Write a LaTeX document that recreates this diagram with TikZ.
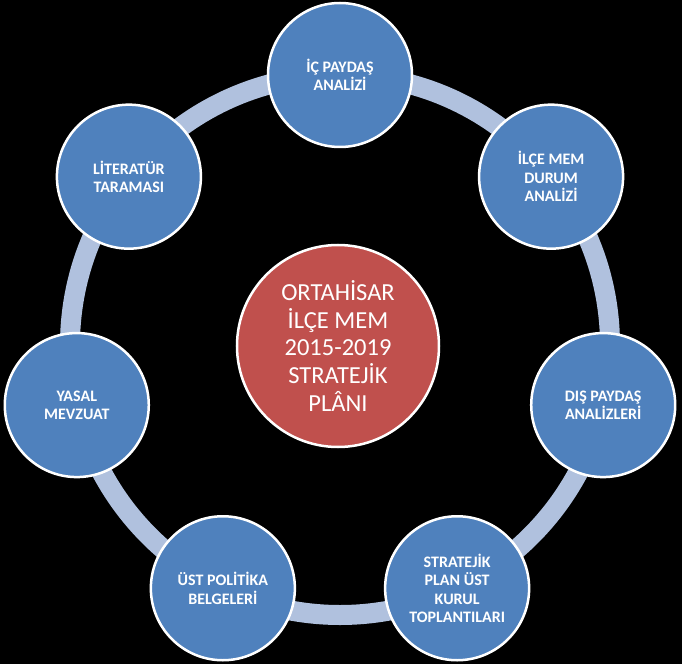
\documentclass[tikz,border=0pt]{standalone}
\usepackage{fontspec}
\setmainfont{Carlito}
\definecolor{satblue}{HTML}{4F81BD}
\definecolor{hubred}{HTML}{C0504D}
\definecolor{ringcol}{HTML}{B0C1DE}
\begin{document}
\begin{tikzpicture}[x=1pt,y=1pt,
  sat/.style={circle, fill=satblue, draw=white, line width=2.5pt, minimum size=144pt,
    inner sep=0pt, align=center, text=white,
    font=\fontsize{16}{18.5}\selectfont\bfseries},
  hub/.style={circle, fill=hubred, draw=white, line width=2.5pt, minimum size=202pt,
    inner sep=0pt, align=center, text=white,
    font=\fontsize{24.5}{27.8}\selectfont},
  ring/.style={draw=ringcol, line width=20pt}]
\fill[black] (-340,-319) rectangle (342,345);
\useasboundingbox (-340,-319) rectangle (342,345);
\draw[ring] (0,0) circle (270);
\node[sat] (s1) at (90:270) {İÇ PAYDAŞ\\ANALİZİ};
\node[sat] (s2) at (38.571:270) {İLÇE MEM\\DURUM\\ANALİZİ};
\node[sat] (s3) at (-12.857:270) {DIŞ PAYDAŞ\\ANALİZLERİ};
\node[sat] (s4) at (-64.286:270) {STRATEJİK\\PLAN ÜST\\KURUL\\TOPLANTILARI};
\node[sat] (s5) at (-115.714:270) {ÜST POLİTİKA\\BELGELERİ};
\node[sat] (s6) at (-167.143:270) {YASAL\\MEVZUAT};
\node[sat] (s7) at (141.429:270) {LİTERATÜR\\TARAMASI};
\node[hub] (c) at (-2,-1) {ORTAHİSAR\\İLÇE MEM\\2015-2019\\STRATEJİK\\PLÂNI};
\end{tikzpicture}
\end{document}
